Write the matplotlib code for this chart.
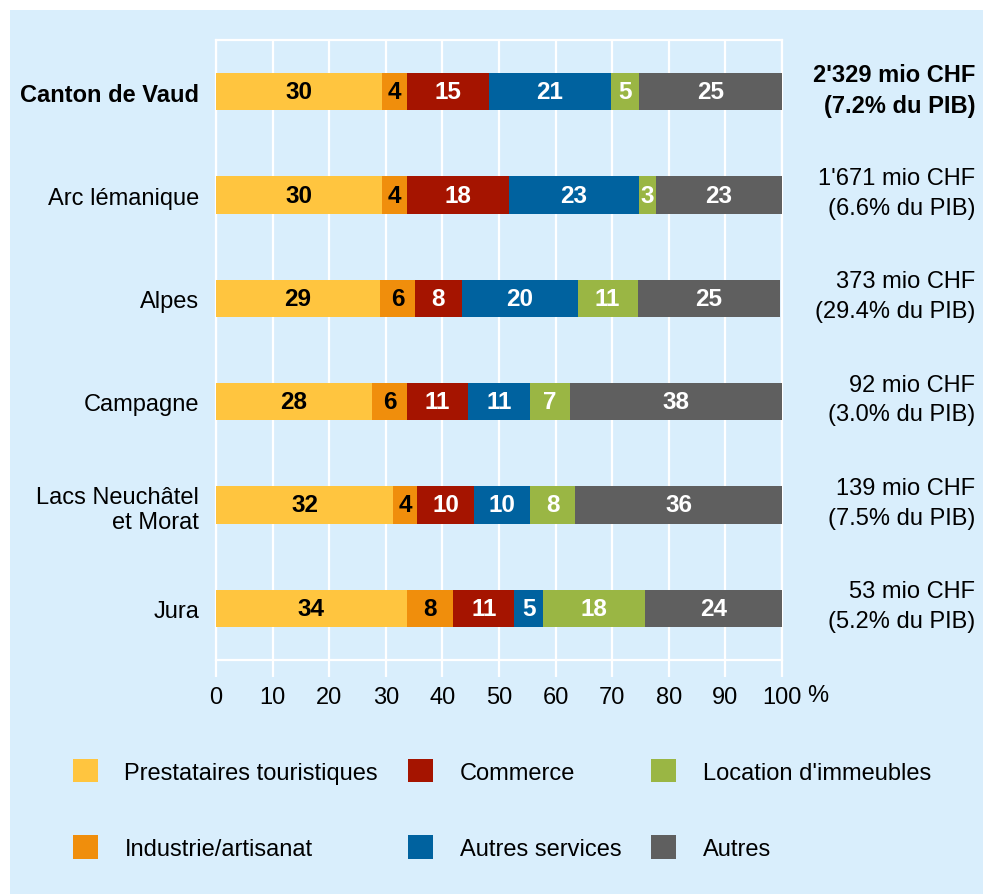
import numpy as np
import matplotlib
matplotlib.use('Agg')
import matplotlib.pyplot as plt
from matplotlib.patches import Patch, Rectangle

plt.rcParams['font.family'] = ['Liberation Sans', 'DejaVu Sans']
FONT_SIZE = 17
BG = '#d9eefc'

regions = ['Canton de Vaud', 'Arc lémanique', 'Alpes', 'Campagne',
           'Lacs Neuchâtel\net Morat', 'Jura']
totals = ["2'329 mio CHF\n(7.2% du PIB)", "1'671 mio CHF\n(6.6% du PIB)",
          "373 mio CHF\n(29.4% du PIB)", "92 mio CHF\n(3.0% du PIB)",
          "139 mio CHF\n(7.5% du PIB)", "53 mio CHF\n(5.2% du PIB)"]

sectors = ['Prestataires touristiques', 'Industrie/artisanat', 'Commerce',
           'Autres services', "Location d'immeubles", 'Autres']
colors = ['#ffc53f', '#f08e0c', '#a51400', '#00629f', '#9ab644', '#5f5f5f']
text_colors = ['black', 'black', 'white', 'white', 'white', 'white']

# shares (%), one list per sector
prestataires = [29.4, 29.4, 29.0, 27.6, 31.3, 33.7]
industrie = [4.3, 4.3, 6.1, 6.1, 4.3, 8.2]
commerce = [14.6, 18.0, 8.4, 10.9, 10.0, 10.8]
autres_services = [21.4, 23.1, 20.4, 10.9, 9.9, 5.1]
location = [5.1, 2.9, 10.6, 7.1, 8.0, 18.0]
autres = [25.2, 22.3, 25.1, 37.4, 36.5, 24.2]

# rounded values printed inside the bars
lab_prestataires = [30, 30, 29, 28, 32, 34]
lab_industrie = [4, 4, 6, 6, 4, 8]
lab_commerce = [15, 18, 8, 11, 10, 11]
lab_autres_services = [21, 23, 20, 11, 10, 5]
lab_location = [5, 3, 11, 7, 8, 18]
lab_autres = [25, 23, 25, 38, 36, 24]

shares = [prestataires, industrie, commerce, autres_services, location, autres]
bar_labels = [lab_prestataires, lab_industrie, lab_commerce,
              lab_autres_services, lab_location, lab_autres]

fig = plt.figure(figsize=(9.83, 8.95), dpi=100, facecolor='white')
fig.patches.append(Rectangle((10 / 983, 0), 1, 1 - 11 / 895, transform=fig.transFigure,
                             facecolor=BG, edgecolor='none', zorder=-1))
ax = fig.add_axes([216 / 983, 1 - 661 / 895, 566 / 983, 620 / 895])
ax.set_facecolor(BG)

y = np.arange(len(regions))
left = np.zeros(len(regions))
for vals, labs, col, tcol in zip(shares, bar_labels, colors, text_colors):
    bars = ax.barh(y, vals, left=left, height=0.36, color=col, zorder=3)
    ax.bar_label(bars, labels=[str(v) for v in labs], label_type='center',
                 color=tcol, fontweight='bold', fontsize=FONT_SIZE + 0.5)
    left += np.array(vals)

ax.set_xlim(0, 100)
ax.set_ylim(len(regions) - 0.5, -0.5)
ax.set_xticks(range(0, 101, 10))
ax.set_yticks(y)
ax.set_yticklabels(regions)
ax.get_yticklabels()[0].set_fontweight('bold')

ax.set_axisbelow(True)
ax.xaxis.grid(True, color='white', linewidth=1.6)
ax.tick_params(axis='x', length=12, width=1.6, color='white', pad=7,
               labelsize=FONT_SIZE)
ax.tick_params(axis='y', length=0, pad=12, labelsize=FONT_SIZE)
for sp in ax.spines.values():
    sp.set_color('white')
    sp.set_linewidth(1.6)

ax.annotate('%', xy=(100, 0), xycoords=ax.get_xaxis_transform(),
            xytext=(26, -25.5), textcoords='offset points',
            ha='center', va='center', fontsize=FONT_SIZE)

for i, t in enumerate(totals):
    ax.annotate(t, xy=(975 / 983, i), xycoords=('figure fraction', 'data'),
                xytext=(0, 1.5), textcoords='offset points',
                ha='right', va='center', fontsize=FONT_SIZE, linespacing=1.45,
                fontweight='bold' if i == 0 else 'normal', annotation_clip=False)

handles = [Patch(facecolor=c, edgecolor='none') for c in colors]
fig.legend(handles, sectors, ncol=3, loc='upper left',
           bbox_to_anchor=(73 / 983, 1 - 760 / 895), frameon=False,
           fontsize=FONT_SIZE, handlelength=1.06, handleheight=1.15,
           handletextpad=1.12, columnspacing=1.27, labelspacing=2.18,
           borderpad=0, borderaxespad=0)

fig.savefig('out.png', dpi=100, facecolor='white')
